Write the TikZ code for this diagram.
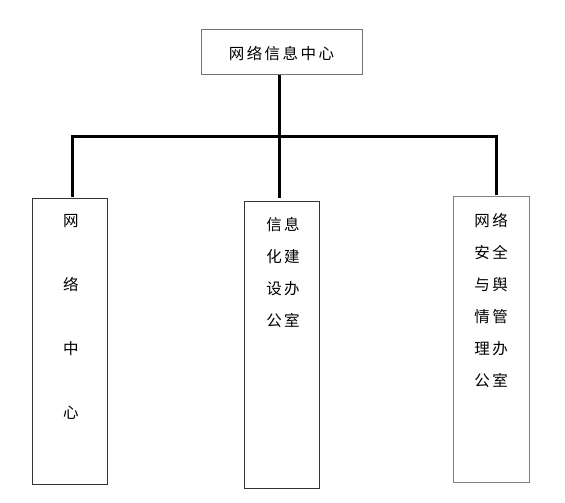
\documentclass[tikz,border=0pt]{standalone}
\usepackage{fontspec}
\newfontfamily\cjk[LetterSpace=16]{Noto Sans CJK SC}
\begin{document}
\begin{tikzpicture}[x=1pt,y=-1pt,
  box/.style={draw=#1,line width=0.9pt,fill=white,inner sep=0pt},
  box/.default={black!80},
  link/.style={line width=3pt,line cap=butt,line join=miter},
  lbl/.style={inner sep=0pt,align=center,font=\cjk\fontsize{15.5}{32}\selectfont},
  lblwide/.style={inner sep=0pt,align=center,font=\cjk\fontsize{15.5}{64}\selectfont}]
\useasboundingbox (0,0) rectangle (565,503);
% boxes
\node[box=black!55,minimum width=161pt,minimum height=45pt] (top) at (281.5,52) {};
\node[box,minimum width=75.4pt,minimum height=286.4pt] (left) at (70,341.5) {};
\node[box,minimum width=75pt,minimum height=286.6pt] (mid) at (281.8,344.9) {};
\node[box=black!50,minimum width=75.6pt,minimum height=286.4pt] (right) at (491.5,339.5) {};
% texts
\node[lbl] (ttop) at (281.5,54) {网络信息中心};
\node[lblwide,anchor=north] (tleft) at (70.8,214.3) {网\\络\\中\\心};
\node[lbl,anchor=north] (tmid) at (283,217.3) {信息\\化建\\设办\\公室};
\node[lbl,anchor=north] (tright) at (491.2,213) {网络\\安全\\与舆\\情管\\理办\\公室};
% connector points
\coordinate (hub) at (279.5,136);
\coordinate (cl) at (72.5,136);
\coordinate (cr) at (496.5,136);
\coordinate (el) at (72.5,196.5);
\coordinate (em) at (279.5,198.4);
\coordinate (er) at (496.5,194.5);
\draw[link] (top.south -| em) -- (em);
\draw[link] (el) -- (cl) -- (cr) -- (er);
\end{tikzpicture}
\end{document}
